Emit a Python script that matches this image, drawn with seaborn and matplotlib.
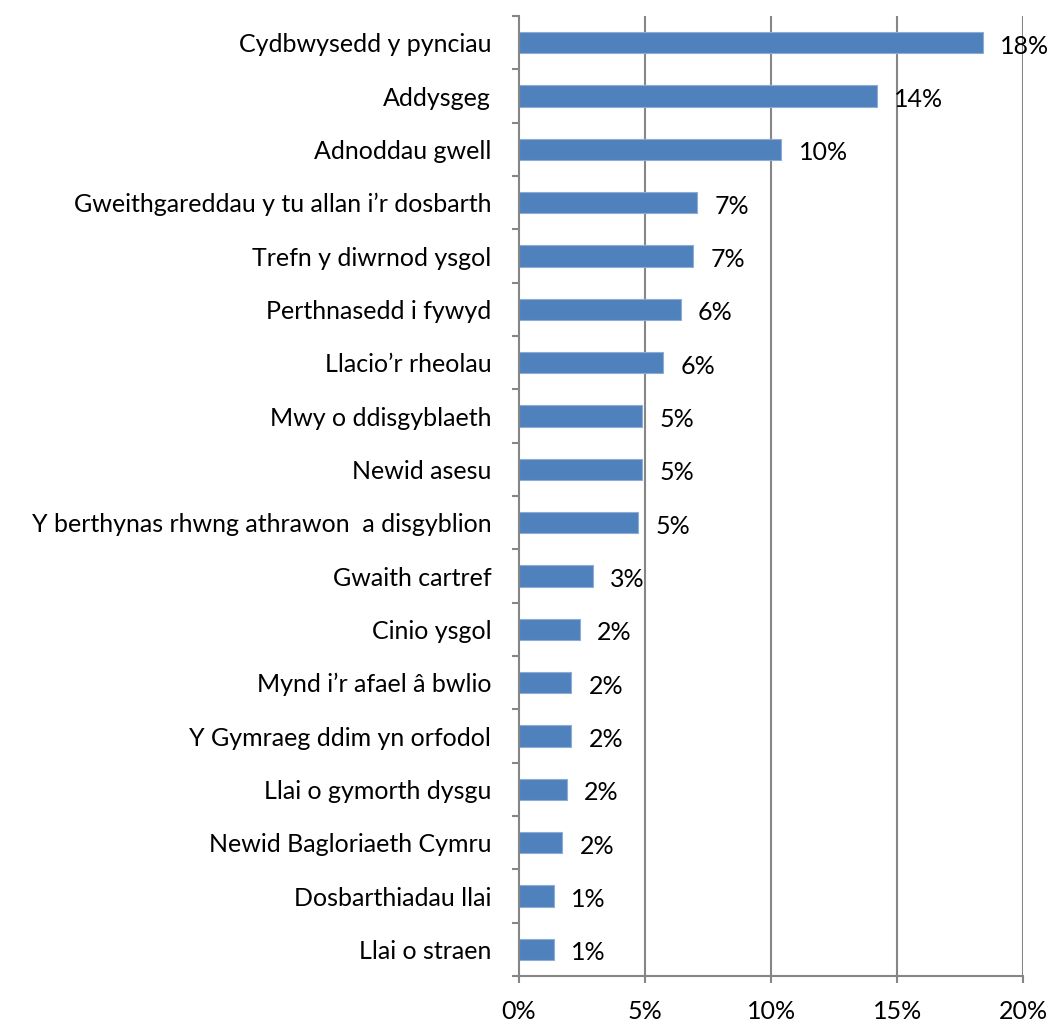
import matplotlib
matplotlib.use("Agg")
import matplotlib.pyplot as plt
import seaborn as sns
import numpy as np
import pandas as pd

# categories (top to bottom) and shares in percent
categories = [
    "Cydbwysedd y pynciau",
    "Addysgeg",
    "Adnoddau gwell",
    "Gweithgareddau y tu allan i’r dosbarth",
    "Trefn y diwrnod ysgol",
    "Perthnasedd i fywyd",
    "Llacio’r rheolau",
    "Mwy o ddisgyblaeth",
    "Newid asesu",
    "Y berthynas rhwng athrawon  a disgyblion",
    "Gwaith cartref",
    "Cinio ysgol",
    "Mynd i’r afael â bwlio",
    "Y Gymraeg ddim yn orfodol",
    "Llai o gymorth dysgu",
    "Newid Bagloriaeth Cymru",
    "Dosbarthiadau llai",
    "Llai o straen",
]
shares = [18.4, 14.2, 10.4, 7.07, 6.92, 6.41, 5.72, 4.88, 4.88, 4.71,
          2.92, 2.41, 2.07, 2.07, 1.89, 1.72, 1.38, 1.38]
x_ticks = [0, 5, 10, 15, 20]

df = pd.DataFrame({"category": categories, "share": shares})

sns.set_style("white")
plt.rcParams["font.family"] = ["Lato", "DejaVu Sans"]

fig = plt.figure(figsize=(10.57, 10.26), dpi=100)
ax = fig.add_axes([0.491, 0.0487, 0.477, 0.9357])

grid_col = "#868686"
fs = 18
for t in x_ticks[1:]:
    ax.axvline(t, color=grid_col, lw=1.5, zorder=0)

sns.barplot(data=df, x="share", y="category", order=categories, orient="h",
            color="#4F81BD", width=0.4, saturation=1, edgecolor="#8DADD6",
            linewidth=0.8, ax=ax, zorder=2)

for i, v in enumerate(shares):
    ax.annotate(f"{int(round(v))}%", xy=(v, i), xytext=(12.5, -2.5),
                textcoords="offset points", ha="left", va="center",
                fontsize=fs, color="black", zorder=3)

ax.set_xlim(0, 20)
ax.set_ylim(len(categories) - 0.5, -0.5)
ax.set_xticks(x_ticks)
ax.set_xticklabels([f"{t}%" for t in x_ticks])
ax.set_xlabel("")
ax.set_ylabel("")

for s in ["top", "right"]:
    ax.spines[s].set_visible(False)
for s in ["left", "bottom"]:
    ax.spines[s].set_color(grid_col)
    ax.spines[s].set_linewidth(1.5)

ax.tick_params(axis="x", which="major", length=5, width=1.5, color=grid_col,
               direction="out", labelsize=fs, pad=12, bottom=True,
               labelcolor="black")
ax.tick_params(axis="y", which="major", length=0, labelsize=fs, pad=20,
               labelcolor="black")
ax.set_yticks(np.arange(-0.5, len(categories), 1), minor=True)
ax.tick_params(axis="y", which="minor", length=5, width=1.5, color=grid_col,
               direction="out", left=True)

fig.savefig("out.png", dpi=100, facecolor="white")
